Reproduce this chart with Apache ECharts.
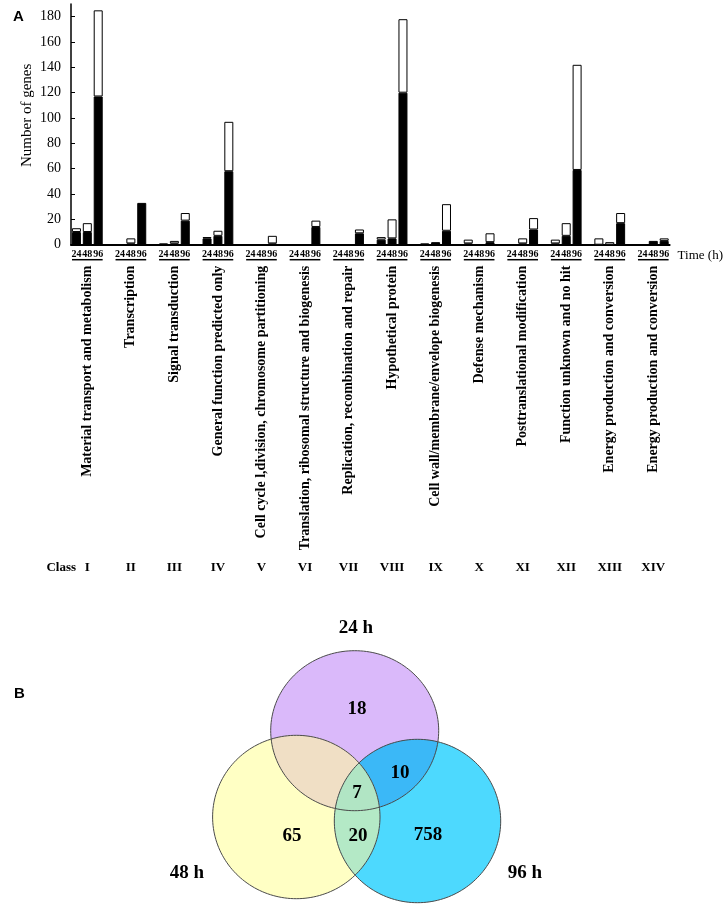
<!DOCTYPE html>
<html lang="en">
<head>
    <meta charset="UTF-8">
    <title>Gene classes over time</title>
    <script src="https://cdn.jsdelivr.net/npm/echarts@6.0.0/dist/echarts.min.js"></script>
    <style>html,body{margin:0;padding:0;background:#fff;}</style>
</head>
<body>
<div style="width:724px;height:906px" id="main"></div>
<script type="text/javascript">
// ---- data ----
var classes = ['I','II','III','IV','V','VI','VII','VIII','IX','X','XI','XII','XIII','XIV'];
var classNames = [
    'Material transport and metabolism',
    'Transcription',
    'Signal transduction',
    'General function predicted only',
    'Cell cycle l,division, chromosome partitioning',
    'Translation, ribosomal structure and biogenesis',
    'Replication, recombination and repair',
    'Hypothetical protein',
    'Cell wall/membrane/envelope biogenesis',
    'Defense mechanism',
    'Posttranslational modification',
    'Function unknown and no hit',
    'Energy production and conversion',
    'Energy production and conversion'
];
var times = ['24', '48', '96'];
// filled (black) lower part and open (white) upper part of each bar
var black24 = [10, 0, 1, 5, 0, 0, 0, 4, 1, 1, 0, 1, 0, 0];
var white24 = [3, 0, 0, 1, 0, 0, 0, 2, 0, 3, 0, 3, 5, 0];
var black48 = [10, 1, 1, 7, 0, 0, 0, 5, 2, 0, 1, 7, 0, 3];
var white48 = [7, 4, 2, 4, 0, 0, 0, 15, 0, 0, 4, 10, 2, 0];
var black96 = [117, 33, 19, 58, 1, 14, 9, 120, 11, 2, 12, 59, 17, 3];
var white96 = [68, 0, 6, 39, 6, 5, 3, 58, 21, 7, 9, 83, 8, 2];
var yTicks = [0, 20, 40, 60, 80, 100, 120, 140, 160, 180];

var vennSets = ['24 h', '48 h', '96 h'];
var vennRegions = [['24 h'], ['48 h'], ['96 h'], ['24 h', '96 h'], ['24 h', '48 h', '96 h'], ['48 h', '96 h']];
var vennCounts = [18, 65, 758, 10, 7, 20];

// ---- layout / styles ----
var serif = '"Liberation Serif", "Times New Roman", serif';
var setColors = ['#dab9fa', '#ffffc4', '#4dd9fe'];
var overlapColors = {'0,1': '#f0dfc5', '0,2': '#3bb8f7', '1,2': '#b4e9c6', '0,1,2': '#b1e5c4'};
// ellipse geometry of the venn panel (panel units = px inside panel B)
var vennShape = [
    {cx: 204.7, cy: 120.7, rx: 84, ry: 80},
    {cx: 146.3, cy: 207, rx: 83.7, ry: 81.7},
    {cx: 267.5, cy: 211, rx: 83.2, ry: 81.7}
];
var regionLabelPos = [[207, 99], [142, 226], [278, 225], [250, 163], [207, 183], [208, 226]];
var setLabelPos = [[206, 18], [37, 263], [375, 263]];

// 3 bars + a spacer slot per class
var slotTimes = [], slotNames = [], slotClass = [], blackData = [], whiteData = [];
classes.forEach(function (c, i) {
    var b = [black24[i], black48[i], black96[i]];
    var w = [white24[i], white48[i], white96[i]];
    for (var t = 0; t < 3; t++) {
        slotTimes.push(times[t]);
        slotNames.push(t === 1 ? classNames[i] : '');
        slotClass.push(t === 1 ? c : '');
        blackData.push(b[t] ? b[t] : '-');
        whiteData.push(w[t] ? w[t] : '-');
    }
    if (i < classes.length - 1) {
        slotTimes.push(''); slotNames.push(''); slotClass.push('');
        blackData.push('-'); whiteData.push('-');
    }
});

// ---- venn helpers ----
function ellipsePoly(s, api) {
    var c = api.coord([s.cx, s.cy]);
    var k = api.size([1, 1]);
    var pts = [];
    for (var i = 0; i < 180; i++) {
        var a = i / 180 * Math.PI * 2;
        pts.push([c[0] + s.rx * k[0] * Math.cos(a), c[1] + s.ry * k[1] * Math.sin(a)]);
    }
    return pts;
}
function side(a, b, p) {
    return (b[0] - a[0]) * (p[1] - a[1]) - (b[1] - a[1]) * (p[0] - a[0]);
}
function clipPoly(subject, clip) {
    var out = subject;
    for (var i = 0; i < clip.length && out.length; i++) {
        var a = clip[i], b = clip[(i + 1) % clip.length];
        var input = out;
        out = [];
        for (var j = 0; j < input.length; j++) {
            var p = input[j], q = input[(j + 1) % input.length];
            var sp = side(a, b, p), sq = side(a, b, q);
            if (sp >= 0) out.push(p);
            if ((sp >= 0) !== (sq >= 0)) {
                var t = sp / (sp - sq);
                out.push([p[0] + (q[0] - p[0]) * t, p[1] + (q[1] - p[1]) * t]);
            }
        }
    }
    return out;
}
var overlapKeys = Object.keys(overlapColors);

var myChart = echarts.init(document.getElementById('main'));
var option = {
    animation: false,
    title: [
        {text: 'A', left: 8, top: 4, textStyle: {fontFamily: '"Liberation Sans", Arial', fontSize: 15, fontWeight: 'bold', color: '#000'}},
        {text: 'B', left: 9, top: 681, textStyle: {fontFamily: '"Liberation Sans", Arial', fontSize: 15, fontWeight: 'bold', color: '#000'}}
    ],
    grid: [
        {left: 71, right: 54, top: 4, bottom: 661.3},
        {left: 150, top: 610, width: 450, height: 296}
    ],
    xAxis: [
        {
            type: 'category', gridIndex: 0, data: slotTimes,
            name: 'Time (h)', nameLocation: 'end', nameGap: 8,
            nameTextStyle: {fontFamily: serif, fontSize: 13, color: '#000', verticalAlign: 'top', padding: [4, 0, 0, 0]},
            axisLine: {lineStyle: {color: '#000', width: 2}},
            axisTick: {show: false},
            axisLabel: {interval: 0, margin: 5, fontFamily: serif, fontSize: 10, fontWeight: 'bold', color: '#000'}
        },
        {
            type: 'category', gridIndex: 0, data: slotNames, position: 'bottom',
            axisLine: {show: false}, axisTick: {show: false},
            axisLabel: {interval: 0, rotate: 90, margin: 21, fontFamily: serif, fontSize: 14, fontWeight: 'bold', color: '#000'}
        },
        {
            type: 'category', gridIndex: 0, data: slotClass, position: 'bottom', offset: 323,
            name: 'Class', nameLocation: 'start', nameGap: -5,
            nameTextStyle: {fontFamily: serif, fontSize: 13, fontWeight: 'bold', color: '#000'},
            axisLine: {show: false}, axisTick: {show: false},
            axisLabel: {interval: 0, margin: 0, verticalAlign: 'middle', fontFamily: serif, fontSize: 13, fontWeight: 'bold', color: '#000'}
        },
        {type: 'value', gridIndex: 1, min: 0, max: 450, show: false}
    ],
    yAxis: [
        {
            type: 'value', gridIndex: 0, min: 0, max: 190,
            name: 'Number of genes', nameLocation: 'middle', nameGap: 36, nameMoveOverlap: false,
            nameTextStyle: {fontFamily: serif, fontSize: 15, color: '#000', padding: [0, 0, 0, 18]},
            axisLine: {show: true, lineStyle: {color: '#000', width: 1.5}},
            axisTick: {show: true, inside: true, length: 4, customValues: yTicks, lineStyle: {color: '#000'}},
            axisLabel: {margin: 10, customValues: yTicks, fontFamily: serif, fontSize: 14, color: '#000',
                formatter: function (v) { return v % 20 === 0 ? v : ''; }},
            splitLine: {show: false}
        },
        {type: 'value', gridIndex: 1, min: 0, max: 296, inverse: true, show: false}
    ],
    series: [
        {
            name: 'filled', type: 'bar', stack: 'g', xAxisIndex: 0, yAxisIndex: 0,
            barWidth: 9, data: blackData,
            itemStyle: {color: '#000', borderColor: '#000', borderWidth: 1}
        },
        {
            name: 'open', type: 'bar', stack: 'g', xAxisIndex: 0, yAxisIndex: 0,
            barWidth: 9, data: whiteData,
            itemStyle: {color: '#fff', borderColor: '#000', borderWidth: 1}
        },
        {
            // underline below each 24/48/96 group
            name: 'groupLine', type: 'custom', xAxisIndex: 0, yAxisIndex: 0, clip: false, silent: true,
            data: classes.map(function (c, i) { return [i * 4 + 1, 0]; }),
            encode: {x: 0, y: 1},
            renderItem: function (params, api) {
                var mid = api.coord([api.value(0), 0]);
                var slot = api.size([1, 0])[0];
                return {
                    type: 'line',
                    shape: {x1: mid[0] - slot * 1.5 + 1, y1: mid[1] + 15, x2: mid[0] + slot * 1.5 - 1, y2: mid[1] + 15},
                    style: {stroke: '#000', lineWidth: 1.5}
                };
            }
        },
        {
            name: 'vennBase', type: 'custom', xAxisIndex: 3, yAxisIndex: 1, clip: false, silent: true, z: 1,
            data: vennSets.map(function () { return [0, 0]; }),
            encode: {x: 0, y: 1},
            renderItem: function (params, api) {
                return {type: 'polygon', shape: {points: ellipsePoly(vennShape[params.dataIndex], api)},
                    style: {fill: setColors[params.dataIndex]}};
            }
        },
        {
            name: 'vennOverlap', type: 'custom', xAxisIndex: 3, yAxisIndex: 1, clip: false, silent: true, z: 2,
            data: overlapKeys.map(function () { return [0, 0]; }),
            encode: {x: 0, y: 1},
            renderItem: function (params, api) {
                var key = overlapKeys[params.dataIndex];
                var idx = key.split(',').map(Number);
                var poly = ellipsePoly(vennShape[idx[0]], api);
                for (var k = 1; k < idx.length; k++) poly = clipPoly(poly, ellipsePoly(vennShape[idx[k]], api));
                return {type: 'polygon', shape: {points: poly}, style: {fill: overlapColors[key]}};
            }
        },
        {
            name: 'vennOutline', type: 'custom', xAxisIndex: 3, yAxisIndex: 1, clip: false, silent: true, z: 3,
            data: vennSets.map(function () { return [0, 0]; }),
            encode: {x: 0, y: 1},
            renderItem: function (params, api) {
                var i = params.dataIndex;
                var p = api.coord(setLabelPos[i]);
                return {type: 'group', children: [
                    {type: 'polygon', shape: {points: ellipsePoly(vennShape[i], api)},
                        style: {fill: 'none', stroke: '#4a4a4a', lineWidth: 1}},
                    {type: 'text', style: {text: vennSets[i], x: p[0], y: p[1], align: 'center', verticalAlign: 'middle',
                        textAlign: 'center', textVerticalAlign: 'middle',
                        fontFamily: serif, fontSize: 19, fontWeight: 'bold', fill: '#000'}}
                ]};
            }
        },
        {
            name: 'vennCounts', type: 'custom', xAxisIndex: 3, yAxisIndex: 1, clip: false, silent: true, z: 4,
            data: vennCounts.map(function () { return [0, 0]; }),
            encode: {x: 0, y: 1},
            renderItem: function (params, api) {
                var p = api.coord(regionLabelPos[params.dataIndex]);
                return {type: 'text', style: {text: String(vennCounts[params.dataIndex]), x: p[0], y: p[1],
                    align: 'center', verticalAlign: 'middle', textAlign: 'center', textVerticalAlign: 'middle',
                    fontFamily: serif, fontSize: 19, fontWeight: 'bold', fill: '#000'}};
            }
        }
    ]
};
myChart.setOption(option);
</script>
</body>
</html>
